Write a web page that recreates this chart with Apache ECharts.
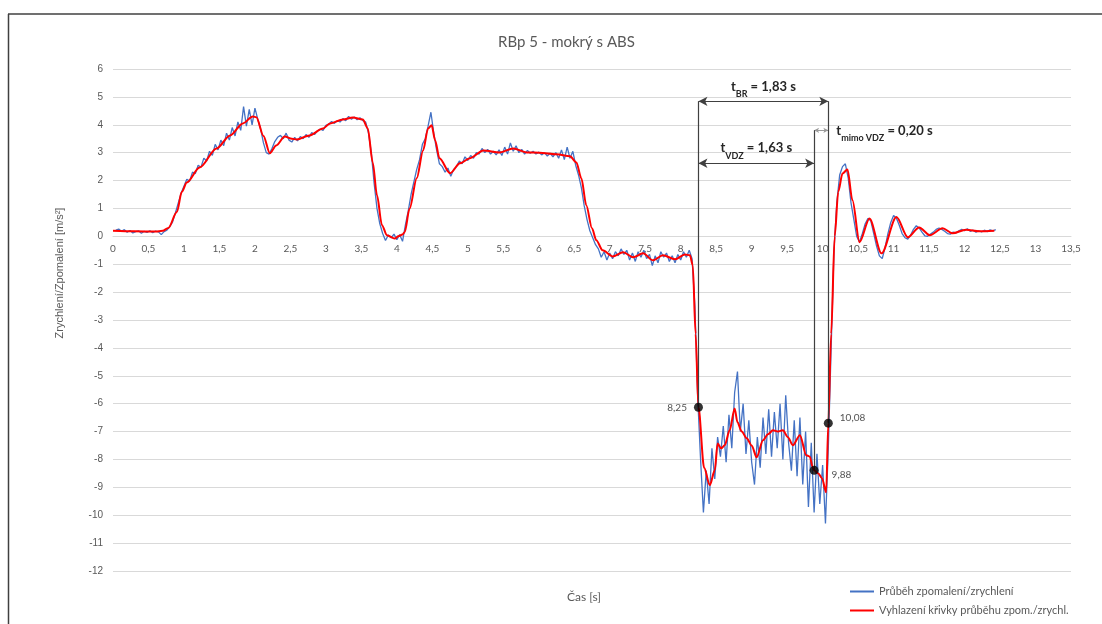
<!DOCTYPE html>
<html><head><meta charset="utf-8">
<script src="https://cdn.jsdelivr.net/npm/echarts@6/dist/echarts.min.js"></script>
<style>html,body{margin:0;padding:0;background:#fff}#c{width:1102px;height:624px}</style>
</head><body><div id="c"></div>
<script>
const titleText = 'RBp 5 - mokrý s ABS';
const xAxisName = 'Čas [s]';
const yAxisName = 'Zrychlení/Zpomalení [m/s²]';
const seriesNames = ['Průběh zpomalení/zrychlení', 'Vyhlazení křivky průběhu zpom./zrychl.'];

// raw signal, sampled every 0.04 s starting at 0.04 s (one row per second)
const blueStart = 0.04, blueStep = 0.04;
const blueValues = [
  0.22,0.26,0.18,0.24,0.15,0.21,0.12,0.17,0.2,0.11,0.18,0.14,0.2,0.13,0.19,0.16,0.06,0.17,0.22,0.35,0.52,0.85,1.2,1.55,1.8,
  2.05,1.98,2.3,2.25,2.55,2.48,2.8,2.7,3.05,2.9,3.3,3.1,3.45,3.25,3.7,3.45,3.9,3.6,4.1,3.8,4.65,3.95,4.55,4.0,4.6,
  4.2,3.85,3.35,3.0,2.95,3.15,3.4,3.55,3.62,3.5,3.7,3.45,3.38,3.55,3.42,3.58,3.5,3.65,3.55,3.72,3.65,3.78,3.85,3.8,3.98,
  4.02,4.12,4.05,4.15,4.1,4.22,4.15,4.3,4.2,4.28,4.18,4.25,4.15,4.1,3.7,3.0,1.9,1.0,0.45,0.1,-0.15,0.05,-0.05,0.08,-0.12,
  0.06,-0.18,0.4,0.9,1.5,1.95,2.4,2.75,3.3,3.5,3.95,4.45,3.7,3.1,2.6,2.5,2.3,2.45,2.15,2.4,2.5,2.7,2.6,2.85,2.72,
  2.9,2.8,3.0,2.95,3.15,3.0,3.12,2.95,3.05,2.92,3.1,2.9,3.2,2.95,3.35,3.05,3.25,3.0,3.12,2.95,3.08,2.98,3.05,2.95,3.02,
  2.92,3.0,2.88,2.98,2.85,3.0,2.8,3.1,2.75,3.2,2.8,3.05,2.55,2.2,1.75,1.1,0.6,0.2,-0.05,-0.3,-0.45,-0.75,-0.55,-0.85,-0.6,
  -0.8,-0.55,-0.7,-0.45,-0.65,-0.5,-0.85,-0.6,-0.9,-0.55,-0.75,-0.5,-0.8,-0.65,-1.05,-0.7,-0.95,-0.55,-0.75,-0.6,-0.9,-0.7,-0.95,-0.65,-0.85,
  -0.55,-0.75,-0.5,-0.8,-2.5,-5.8,-8.0,-9.9,-8.4,-9.6,-7.6,-8.7,-7.2,-7.9,-6.8,-8.1,-6.4,-7.6,-5.6,-4.85,-7.0,-6.0,-7.8,-6.6,-8.1,
  -8.9,-7.2,-8.3,-6.5,-7.8,-6.2,-7.9,-6.3,-7.6,-6.0,-8.0,-5.7,-7.4,-8.4,-6.6,-8.6,-6.5,-8.9,-7.0,-9.7,-7.4,-9.9,-7.8,-9.6,-8.2,
  -10.3,-7.6,-4.0,-0.5,1.2,2.2,2.5,2.6,2.1,1.2,0.6,0.0,-0.2,0.1,0.45,0.65,0.55,0.1,-0.35,-0.7,-0.8,-0.4,0.1,0.5,0.75,
  0.65,0.4,0.1,-0.05,-0.1,0.05,0.25,0.38,0.3,0.15,0.02,0.0,0.08,0.15,0.25,0.3,0.25,0.18,0.1,0.08,0.15,0.12,0.2,0.25,0.2,
  0.27,0.18,0.22,0.15,0.2,0.16,0.22,0.17,0.23,0.2,0.24
];

// smoothed curve [t, value]
const redPoints = [
  [0,0.2],[0.3,0.18],[0.6,0.17],[0.7,0.2],[0.78,0.3],[0.9,0.87],[0.97,1.6],[1.04,1.93],[1.22,2.47],[1.46,3.15],
  [1.65,3.62],[1.83,4.05],[1.97,4.3],[2.02,4.27],[2.12,3.6],[2.21,2.98],[2.3,3.26],[2.42,3.58],[2.52,3.5],[2.59,3.47],
  [2.77,3.62],[2.96,3.87],[3.06,4.05],[3.24,4.19],[3.38,4.26],[3.52,4.19],[3.59,3.87],[3.66,2.65],[3.72,1.47],[3.79,0.4],
  [3.86,0.04],[3.97,-0.08],[4.02,0.0],[4.08,0.07],[4.11,0.15],[4.18,1.0],[4.28,2.08],[4.37,3.08],[4.44,3.87],[4.49,3.98],
  [4.54,3.44],[4.6,2.8],[4.75,2.26],[4.89,2.62],[5.03,2.8],[5.22,3.08],[5.45,3.01],[5.64,3.15],[5.83,3.01],[6.01,3.0],
  [6.25,2.94],[6.44,2.87],[6.53,2.65],[6.6,2.08],[6.67,1.11],[6.75,0.29],[6.81,-0.14],[6.9,-0.5],[7.04,-0.72],[7.19,-0.57],
  [7.33,-0.75],[7.47,-0.61],[7.61,-0.86],[7.75,-0.68],[7.92,-0.82],[8.06,-0.65],[8.13,-0.68],[8.17,-1.04],[8.21,-3.5],[8.25,-6.13],
  [8.33,-8.3],[8.41,-8.92],[8.48,-8.39],[8.52,-7.43],[8.57,-7.6],[8.62,-7.49],[8.69,-6.95],[8.76,-6.17],[8.8,-6.67],[8.86,-7.0],
  [8.93,-7.24],[9.0,-7.5],[9.07,-7.92],[9.16,-7.31],[9.23,-7.1],[9.3,-6.95],[9.37,-7.0],[9.44,-6.95],[9.51,-7.2],[9.58,-7.49],
  [9.68,-7.13],[9.77,-7.85],[9.82,-7.9],[9.86,-8.28],[9.88,-8.39],[9.94,-8.5],[9.99,-8.67],[10.05,-9.18],[10.08,-6.7],[10.12,-3.5],
  [10.17,0.0],[10.22,1.6],[10.28,2.25],[10.35,2.4],[10.42,1.29],[10.52,-0.21],[10.66,0.64],[10.83,-0.61],[11.04,0.69],[11.2,-0.03],
  [11.36,0.32],[11.51,0.04],[11.69,0.29],[11.83,0.11],[12.02,0.24],[12.21,0.18],[12.42,0.2]
];

// marked points
const pointT = [8.25, 9.88, 10.08];
const pointV = [-6.13, -8.39, -6.7];
const pointLabels = ['8,25', '9,88', '10,08'];

// annotation levels (value axis) and texts
const levelBR = 4.84, levelMimo = 3.8, levelVDZ = 2.62;
const textBR = ['t', 'BR', ' = 1,83 s'];
const textVDZ = ['t', 'VDZ', ' = 1,63 s'];
const textMimo = ['t', 'mimo VDZ', ' = 0,20 s'];

// axis ranges
const xMin = 0, xMax = 13.5, xStep = 0.5;
const yMin = -12, yMax = 6, yStep = 1;

const blueData = blueValues.map((v, i) => [+(blueStart + i * blueStep).toFixed(2), v]);

const W = 1102, H = 624;
const gridBox = { left: 113, right: 31, top: 69, bottom: 53 };
const gridH = H - gridBox.top - gridBox.bottom;
// move the x axis (line + labels) up to the value 0
const xAxisOffset = -gridH * (0 - yMin) / (yMax - yMin);

const richStyle = {
  a: { fontSize: 13, fontWeight: 'bold', color: '#262626', fontFamily: 'Lato', lineHeight: 16, verticalAlign: 'middle' },
  s: { fontSize: 9, fontWeight: 'bold', color: '#262626', fontFamily: 'Lato', lineHeight: 24, verticalAlign: 'bottom' }
};
const fmt = (arr) => '{a|' + arr[0] + '}{s|' + arr[1] + '}{a|' + arr[2] + '}';

const chart = echarts.init(document.getElementById('c'));
chart.setOption({
  animation: false,
  backgroundColor: '#fff',
  title: {
    text: titleText, left: 493, top: 30,
    textStyle: { fontSize: 15, fontWeight: 'normal', color: '#595959', fontFamily: 'Lato' }
  },
  grid: gridBox,
  legend: {
    orient: 'vertical', left: 845, top: 581, itemWidth: 24, itemHeight: 2, itemGap: 8,
    textStyle: { fontSize: 11, color: '#595959', fontFamily: 'Lato' },
    data: [{ name: seriesNames[0], icon: 'rect' }, { name: seriesNames[1], icon: 'rect' }]
  },
  xAxis: {
    type: 'value', min: xMin, max: xMax, interval: xStep,
    position: 'bottom', offset: xAxisOffset,
    axisLine: { onZero: false, lineStyle: { color: '#d9d9d9' } },
    axisTick: { show: false },
    splitLine: { show: false },
    axisLabel: {
      fontSize: 10, color: '#595959', fontFamily: 'Lato', margin: 7,
      formatter: v => String(v).replace('.', ',')
    }
  },
  yAxis: {
    type: 'value', min: yMin, max: yMax, interval: yStep,
    axisLine: { show: false, onZero: false }, axisTick: { show: false },
    splitLine: { lineStyle: { color: '#d9d9d9', width: 1 } },
    axisLabel: { fontSize: 10, color: '#595959', fontFamily: 'Liberation Sans', margin: 10 }
  },
  graphic: [
    { type: 'line', shape: { x1: 8, y1: 14, x2: 1102, y2: 14 }, style: { stroke: '#404040', lineWidth: 1.5 } },
    { type: 'line', shape: { x1: 8.5, y1: 14, x2: 8.5, y2: 624 }, style: { stroke: '#404040', lineWidth: 1.5 } },
    { type: 'text', x: 60, y: 273, rotation: Math.PI / 2,
      style: { text: yAxisName, align: 'center', verticalAlign: 'middle', fontSize: 11, fontFamily: 'Liberation Sans', fill: '#595959' } },
    { type: 'text', x: 584, y: 597,
      style: { text: xAxisName, align: 'center', verticalAlign: 'middle', fontSize: 12, fontFamily: 'Lato', fill: '#595959' } }
  ],
  series: [
    {
      name: seriesNames[0], type: 'line', data: blueData, showSymbol: false, z: 2,
      lineStyle: { color: '#4472c4', width: 1.3 }, itemStyle: { color: '#4472c4' }
    },
    {
      name: seriesNames[1], type: 'line', data: redPoints, showSymbol: false, z: 3,
      smooth: 0.3, smoothMonotone: 'x',
      lineStyle: { color: '#ff0000', width: 2 }, itemStyle: { color: '#ff0000' },
      markLine: {
        silent: true, symbol: ['arrow', 'arrow'], symbolSize: [7, 9],
        lineStyle: { color: '#404040', width: 1.2, type: 'solid' },
        label: { show: true, position: 'middle', distance: 3, rich: richStyle },
        data: [
          [{ coord: [pointT[0], levelBR] }, { coord: [pointT[2], levelBR], label: { formatter: fmt(textBR) } }],
          [{ coord: [pointT[0], levelVDZ] }, { coord: [pointT[1], levelVDZ], label: { formatter: fmt(textVDZ) } }],
          [{ coord: [pointT[1], levelMimo], symbolSize: [4, 5] }, { coord: [pointT[2], levelMimo], symbolSize: [4, 5],
            lineStyle: { color: '#9a9a9a', width: 1 },
            label: { formatter: fmt(textMimo), position: 'end', distance: 8 } }]
        ]
      }
    },
    {
      type: 'scatter', z: 5, symbolSize: 9,
      itemStyle: { color: '#000' },
      data: pointT.map((t, i) => ({
        value: [t, pointV[i]],
        label: {
          show: true, formatter: pointLabels[i],
          position: i === 0 ? 'left' : 'right',
          offset: i === 1 ? [8, 4] : (i === 2 ? [2, -5] : [-2, 0]),
          fontSize: 10, color: '#262626', fontFamily: 'Lato'
        }
      })),
      markLine: {
        silent: true, symbol: ['none', 'none'],
        lineStyle: { color: '#404040', width: 1.2, type: 'solid' },
        label: { show: false },
        data: [
          [{ coord: [pointT[0], levelBR] }, { coord: [pointT[0], pointV[0]] }],
          [{ coord: [pointT[1], levelMimo] }, { coord: [pointT[1], pointV[1]] }],
          [{ coord: [pointT[2], levelBR] }, { coord: [pointT[2], pointV[2]] }]
        ]
      }
    }
  ]
});
</script></body></html>
